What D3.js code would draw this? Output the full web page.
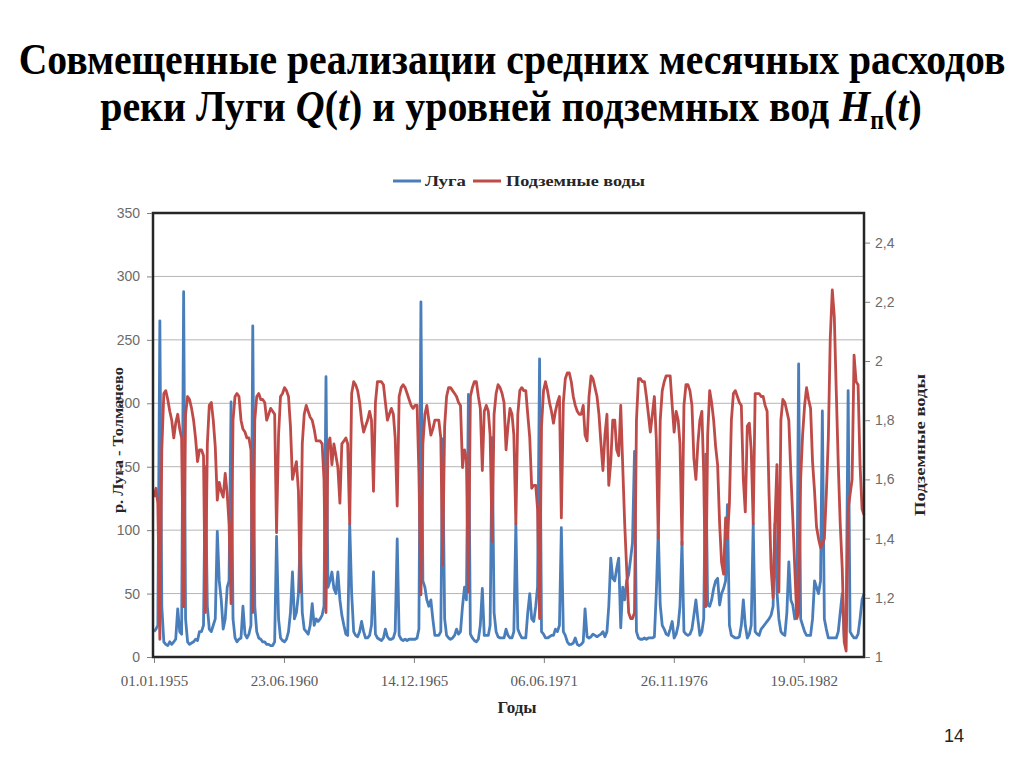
<!DOCTYPE html>
<html lang="ru">
<head>
<meta charset="UTF-8">
<title>Луга и подземные воды</title>
<script src="https://d3js.org/d3.v7.min.js"></script>
<style>
    body { margin: 0; background: #fff; }
    svg { display: block; }
    .title { font-family: "Liberation Serif", "Times New Roman", serif; font-weight: bold; font-size: 45px; fill: #000; }
    .axis-title { font-family: "Liberation Serif", "Times New Roman", serif; font-weight: bold; font-size: 14px; fill: #262626; }
    .legend text { font-family: "Liberation Serif", "Times New Roman", serif; font-weight: bold; font-size: 15px; fill: #262626; }
    .y-axis text { font-family: "Liberation Sans", Arial, sans-serif; font-size: 14px; fill: #6b6b6b; }
    .x-axis text { font-family: "Liberation Serif", "Times New Roman", serif; font-size: 15px; fill: #595959; }
    .page-num { font-family: "Liberation Sans", Arial, sans-serif; font-size: 18px; fill: #222; }
</style>
</head>
<body>
<div id="chart"></div>
<script>
    // monthly values, Jan 1955 .. Dec 1984 (one row per year)
    const startYear = 1955;

    const luga = [
        20, 22, 25, 265, 40, 12, 10, 9, 12, 10, 12, 14,
        38, 20, 18, 288, 30, 12, 10, 11, 12, 14, 13, 20,
        20, 25, 150, 40, 22, 20, 25, 30, 99, 60, 45, 22,
        30, 55, 60, 201, 30, 15, 12, 14, 15, 40, 18, 15,
        18, 25, 261, 40, 20, 15, 14, 12, 12, 10, 10, 9,
        9, 12, 95, 30, 15, 13, 12, 14, 20, 35, 67, 30,
        35, 50, 95, 35, 22, 20, 18, 25, 42, 25, 30, 28,
        30, 33, 40, 221, 55, 60, 67, 54, 50, 67, 45, 33,
        25, 18, 17, 105, 50, 20, 17, 16, 20, 28, 20, 15,
        15, 17, 25, 67, 18, 15, 14, 13, 15, 22, 16, 14,
        14, 15, 20, 93, 17, 14, 13, 14, 13, 14, 14, 14,
        14, 15, 22, 280, 60, 55, 45, 40, 45, 30, 17, 17,
        17, 20, 172, 30, 17, 15, 14, 15, 17, 22, 18, 20,
        40, 55, 45, 207, 18, 15, 13, 12, 14, 25, 54, 17,
        17, 17, 25, 173, 35, 20, 16, 15, 15, 15, 22, 17,
        15, 15, 20, 105, 22, 18, 15, 15, 15, 35, 50, 30,
        28, 40, 55, 235, 20, 18, 15, 15, 16, 17, 17, 22,
        20, 25, 102, 20, 17, 12, 10, 10, 11, 15, 10, 9,
        10, 12, 38, 16, 15, 16, 18, 17, 16, 17, 18, 20,
        16, 20, 40, 78, 62, 60, 70, 78, 23, 55, 45, 60,
        65, 78, 90, 162, 20, 15, 14, 14, 15, 14, 15, 15,
        15, 16, 50, 100, 41, 25, 22, 18, 17, 22, 28, 15,
        18, 25, 40, 91, 20, 18, 17, 18, 22, 33, 45, 30,
        17, 20, 30, 160, 41, 40, 45, 54, 60, 62, 41, 50,
        54, 60, 120, 25, 17, 16, 15, 15, 16, 25, 45, 25,
        15, 18, 25, 105, 20, 18, 17, 22, 24, 26, 28, 30,
        33, 40, 105, 52, 30, 20, 18, 17, 35, 75, 45, 41,
        30, 33, 231, 30, 25, 20, 17, 17, 17, 30, 60, 55,
        50, 60, 194, 30, 22, 15, 15, 15, 15, 15, 20, 35,
        50, 15, 25, 210, 20, 17, 15, 15, 18, 30, 45, 50
    ];

    const groundwater = [
        1.54, 1.57, 1.52, 1.06, 1.70, 1.89, 1.90, 1.87, 1.83, 1.80, 1.74, 1.79,
        1.82, 1.77, 1.74, 1.17, 1.82, 1.88, 1.87, 1.84, 1.80, 1.74, 1.66, 1.70,
        1.70, 1.68, 1.15, 1.72, 1.85, 1.86, 1.80, 1.71, 1.53, 1.59, 1.56, 1.54,
        1.62, 1.55, 1.45, 1.18, 1.80, 1.88, 1.89, 1.88, 1.80, 1.77, 1.76, 1.74,
        1.74, 1.70, 1.15, 1.80, 1.88, 1.89, 1.87, 1.87, 1.86, 1.80, 1.82, 1.84,
        1.83, 1.82, 1.42, 1.75, 1.88, 1.89, 1.91, 1.90, 1.88, 1.78, 1.60, 1.63,
        1.66, 1.56, 1.22, 1.72, 1.82, 1.85, 1.83, 1.81, 1.80, 1.77, 1.73, 1.73,
        1.73, 1.72, 1.60, 1.15, 1.72, 1.74, 1.65, 1.72, 1.68, 1.64, 1.52, 1.72,
        1.73, 1.74, 1.72, 1.45, 1.89, 1.93, 1.92, 1.90, 1.86, 1.80, 1.76, 1.78,
        1.80, 1.83, 1.80, 1.56, 1.86, 1.93, 1.93, 1.93, 1.92, 1.86, 1.80, 1.82,
        1.84, 1.82, 1.74, 1.51, 1.88, 1.91, 1.92, 1.91, 1.89, 1.87, 1.85, 1.84,
        1.85, 1.85, 1.62, 1.21, 1.72, 1.82, 1.85, 1.80, 1.75, 1.77, 1.80, 1.80,
        1.80, 1.74, 1.31, 1.78, 1.88, 1.91, 1.91, 1.90, 1.89, 1.88, 1.86, 1.85,
        1.64, 1.70, 1.67, 1.22, 1.88, 1.91, 1.93, 1.93, 1.88, 1.84, 1.63, 1.83,
        1.85, 1.83, 1.75, 1.39, 1.82, 1.89, 1.92, 1.91, 1.89, 1.86, 1.70, 1.78,
        1.84, 1.82, 1.75, 1.45, 1.82, 1.90, 1.91, 1.90, 1.90, 1.82, 1.74, 1.57,
        1.58, 1.58, 1.50, 1.13, 1.78, 1.90, 1.93, 1.90, 1.86, 1.83, 1.79, 1.83,
        1.86, 1.88, 1.47, 1.86, 1.94, 1.96, 1.96, 1.93, 1.88, 1.85, 1.83, 1.82,
        1.82, 1.85, 1.75, 1.73, 1.88, 1.95, 1.94, 1.91, 1.88, 1.82, 1.72, 1.63,
        1.75, 1.82, 1.58, 1.66, 1.80, 1.80, 1.70, 1.68, 1.85, 1.65, 1.45, 1.30,
        1.15, 1.13, 1.13, 1.15, 1.80, 1.94, 1.94, 1.93, 1.93, 1.88, 1.82, 1.76,
        1.82, 1.88, 1.74, 1.40, 1.80, 1.90, 1.93, 1.95, 1.95, 1.95, 1.85, 1.76,
        1.83, 1.80, 1.72, 1.38, 1.85, 1.92, 1.92, 1.90, 1.85, 1.67, 1.60, 1.72,
        1.80, 1.83, 1.62, 1.17, 1.75, 1.90, 1.86, 1.80, 1.71, 1.65, 1.45, 1.32,
        1.28, 1.47, 1.40, 1.52, 1.80, 1.89, 1.90, 1.88, 1.86, 1.85, 1.60, 1.49,
        1.78, 1.79, 1.70, 1.45, 1.89, 1.89, 1.89, 1.88, 1.88, 1.85, 1.83, 1.55,
        1.30, 1.20, 1.45, 1.65, 1.22, 1.80, 1.87, 1.86, 1.83, 1.80, 1.62, 1.47,
        1.30, 1.13, 1.15, 1.60, 1.75, 1.85, 1.91, 1.87, 1.84, 1.66, 1.56, 1.44,
        1.40, 1.37, 1.38, 1.40, 1.55, 1.74, 2.08, 2.24, 2.15, 1.90, 1.65, 1.45,
        1.30, 1.05, 1.02, 1.50, 1.55, 1.60, 2.02, 1.93, 1.92, 1.65, 1.50, 1.48
    ];

    const leftTicks = [0, 50, 100, 150, 200, 250, 300, 350];
    const rightTicks = [1, 1.2, 1.4, 1.6, 1.8, 2, 2.2, 2.4];
    const rightTickLabels = ["1", "1,2", "1,4", "1,6", "1,8", "2", "2,2", "2,4"];
    const dateLabels = ["01.01.1955", "23.06.1960", "14.12.1965", "06.06.1971", "26.11.1976", "19.05.1982"];

    const seriesNames = ["Луга", "Подземные воды"];
    const seriesColors = ["#4a7ebb", "#be4b48"];

    const width = 1024;
    const height = 767;
    const plot = { left: 153, right: 864, top: 213, bottom: 657 };

    const svg = d3.select("#chart")
        .append("svg")
        .attr("width", width)
        .attr("height", height);

    const monthDate = i => new Date(startYear, i, 1);
    const parseDate = d3.timeParse("%d.%m.%Y");

    const x = d3.scaleTime()
        .domain([monthDate(0), monthDate(luga.length - 1)])
        .range([plot.left + 1, plot.right]);
    const yLeft = d3.scaleLinear().domain([0, 350]).range([plot.bottom, plot.top]);
    const yRight = d3.scaleLinear().domain([1, 2.5]).range([plot.bottom, plot.top]);

    // squeeze a text horizontally so it spans the given width
    function fitWidth(sel, targetWidth) {
        const w = sel.node().getBBox().width;
        const s = targetWidth / w;
        sel.attr("transform", sel.attr("data-t") + ` scale(${s},1)`);
    }

    const t1 = svg.append("text")
        .attr("class", "title")
        .attr("text-anchor", "middle")
        .attr("data-t", "translate(512,74)")
        .text("Совмещенные реализации средних месячных расходов");
    fitWidth(t1, 987);

    const t2 = svg.append("text")
        .attr("class", "title")
        .attr("text-anchor", "middle")
        .attr("data-t", "translate(511,121)");
    t2.append("tspan").text("реки Луги ");
    t2.append("tspan").style("font-style", "italic").text("Q");
    t2.append("tspan").text("(");
    t2.append("tspan").style("font-style", "italic").text("t");
    t2.append("tspan").text(") и уровней подземных вод ");
    t2.append("tspan").style("font-style", "italic").text("H");
    t2.append("tspan").attr("dy", 8).style("font-size", "27px").text("п");
    t2.append("tspan").attr("dy", -8).text("(");
    t2.append("tspan").style("font-style", "italic").text("t");
    t2.append("tspan").text(")");
    fitWidth(t2, 822);

    // legend
    const legend = svg.append("g").attr("class", "legend");
    const legendX = [393, 473];
    const legendTextX = [425, 506];
    const legendTextW = [41, 139];
    seriesNames.forEach((name, i) => {
        legend.append("line")
            .attr("x1", legendX[i]).attr("x2", legendX[i] + 28)
            .attr("y1", 181).attr("y2", 181)
            .attr("stroke", seriesColors[i])
            .attr("stroke-width", 3);
        legend.append("text")
            .attr("x", legendTextX[i])
            .attr("y", 186)
            .attr("textLength", legendTextW[i])
            .attr("lengthAdjust", "spacingAndGlyphs")
            .text(name);
    });

    // gridlines
    svg.append("g")
        .selectAll("line")
        .data(leftTicks)
        .join("line")
        .attr("x1", plot.left).attr("x2", plot.right)
        .attr("y1", d => yLeft(d)).attr("y2", d => yLeft(d))
        .attr("stroke", "#b5b5b5")
        .attr("stroke-width", 1);

    // series
    const lineLuga = d3.line()
        .x((d, i) => x(monthDate(i)))
        .y(d => yLeft(d));
    const lineGround = d3.line()
        .x((d, i) => x(monthDate(i)))
        .y(d => yRight(d));

    svg.append("path")
        .datum(luga)
        .attr("d", lineLuga)
        .attr("fill", "none")
        .attr("stroke", seriesColors[0])
        .attr("stroke-width", 2.8)
        .attr("stroke-linejoin", "round");

    svg.append("path")
        .datum(groundwater)
        .attr("d", lineGround)
        .attr("fill", "none")
        .attr("stroke", seriesColors[1])
        .attr("stroke-width", 2.8)
        .attr("stroke-linejoin", "round");

    // plot frame
    svg.append("rect")
        .attr("x", plot.left)
        .attr("y", plot.top)
        .attr("width", plot.right - plot.left)
        .attr("height", plot.bottom - plot.top)
        .attr("fill", "none")
        .attr("stroke", "#262626")
        .attr("stroke-width", 2.5);

    // axes
    const leftAxis = svg.append("g")
        .attr("class", "y-axis")
        .attr("transform", `translate(${plot.left - 1},0)`)
        .call(d3.axisLeft(yLeft).tickValues(leftTicks).tickSize(5).tickPadding(7));

    const rightAxis = svg.append("g")
        .attr("class", "y-axis")
        .attr("transform", `translate(${plot.right + 1},0)`)
        .call(d3.axisRight(yRight).tickValues(rightTicks).tickSize(5).tickPadding(5)
            .tickFormat((d, i) => rightTickLabels[i]));

    const dateTicks = dateLabels.map(parseDate);
    const bottomAxis = svg.append("g")
        .attr("class", "x-axis")
        .attr("transform", `translate(0,${plot.bottom + 1})`)
        .call(d3.axisBottom(x).tickValues(dateTicks).tickSize(5).tickPadding(12)
            .tickFormat((d, i) => dateLabels[i]));

    [leftAxis, rightAxis, bottomAxis].forEach(a => {
        a.select(".domain").remove();
        a.selectAll(".tick line").attr("stroke", "#7f7f7f");
    });

    // axis titles
    svg.append("text")
        .attr("class", "axis-title")
        .attr("text-anchor", "middle")
        .attr("transform", "translate(123,440) rotate(-90)")
        .attr("textLength", 146)
        .attr("lengthAdjust", "spacingAndGlyphs")
        .text("р. Луга - Толмачево");

    svg.append("text")
        .attr("class", "axis-title")
        .attr("text-anchor", "middle")
        .attr("transform", "translate(925,445) rotate(-90)")
        .attr("textLength", 142)
        .attr("lengthAdjust", "spacingAndGlyphs")
        .text("Подземные воды");

    svg.append("text")
        .attr("class", "axis-title")
        .attr("text-anchor", "middle")
        .attr("x", 517)
        .attr("y", 713)
        .style("font-size", "17px")
        .text("Годы");

    svg.append("text")
        .attr("class", "page-num")
        .attr("text-anchor", "middle")
        .attr("x", 954)
        .attr("y", 742)
        .text("14");
</script>
</body>
</html>
